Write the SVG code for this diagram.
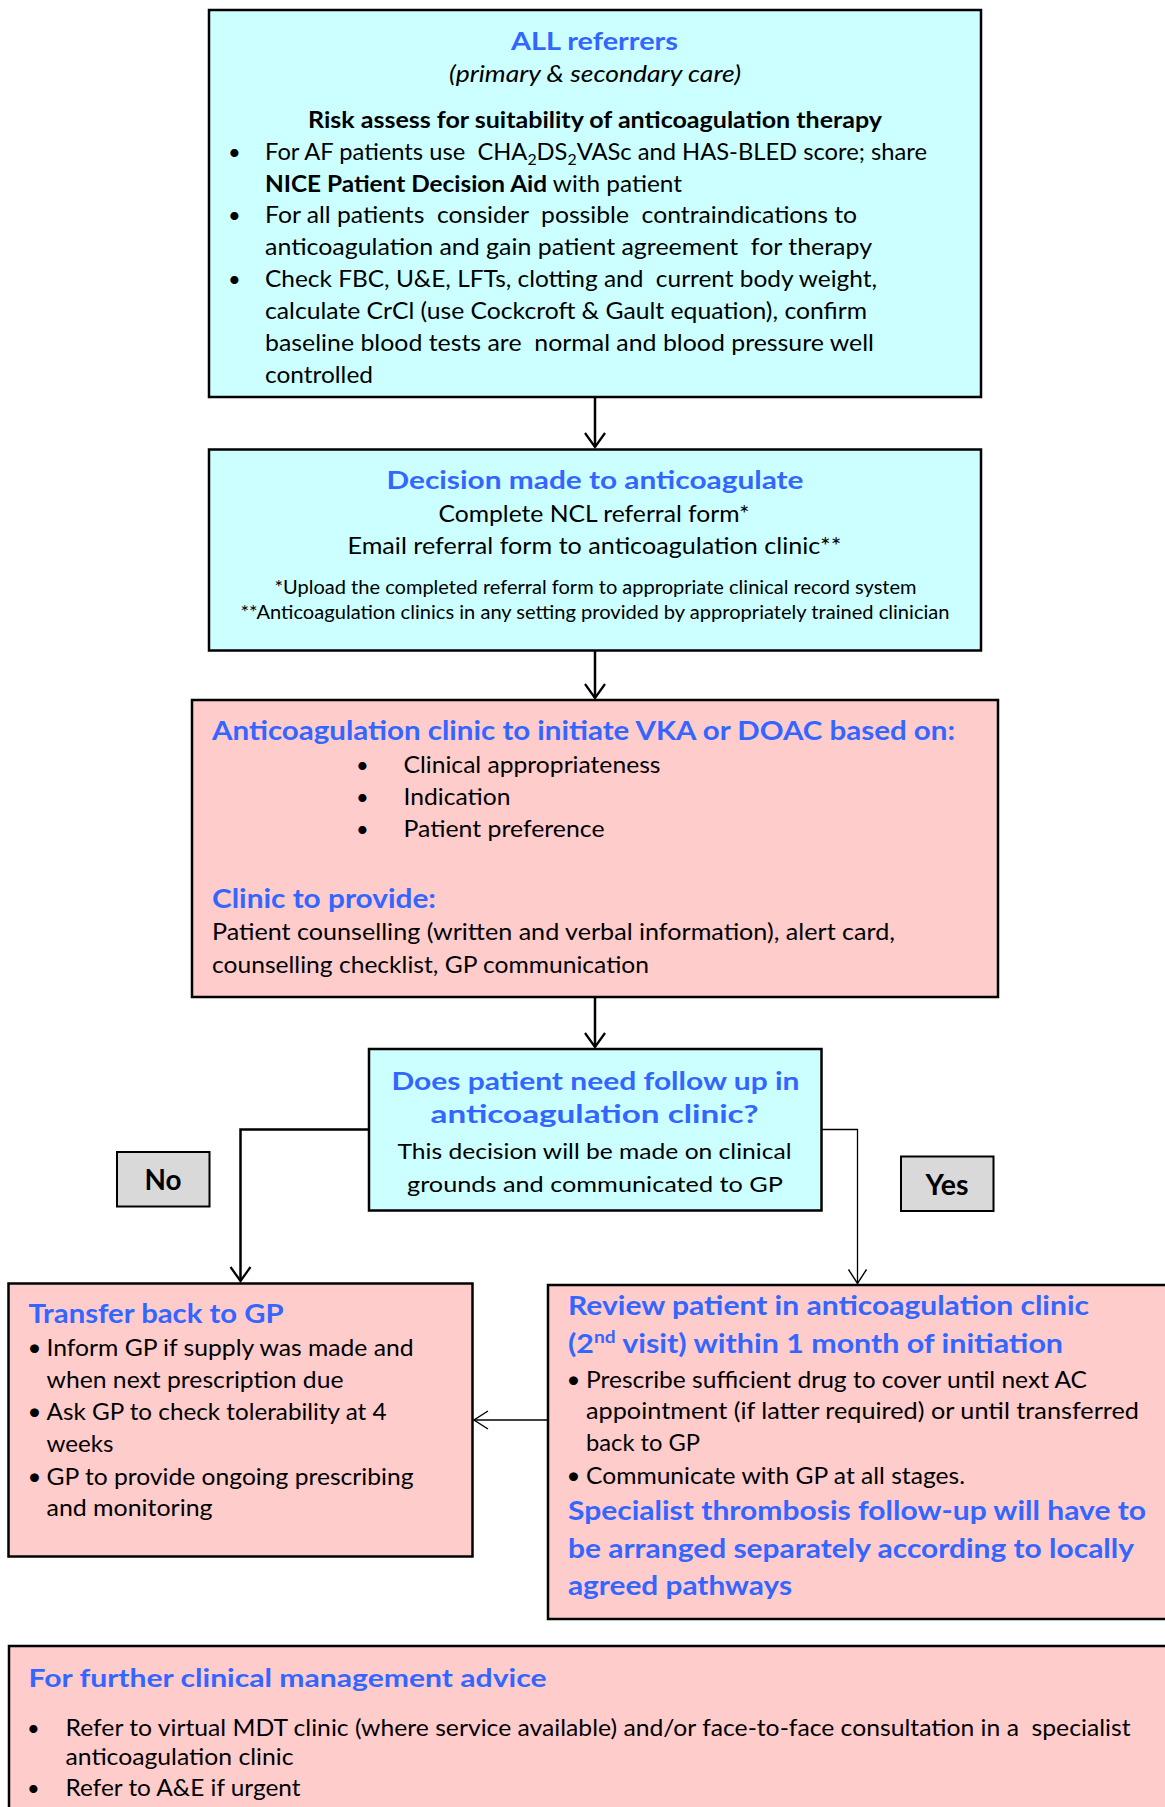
<svg xmlns="http://www.w3.org/2000/svg" width="1165" height="1807" viewBox="0 0 1165 1807">
<defs>
<style>
text{font-family:Lato,"Open Sans","Liberation Sans",sans-serif;fill:#000}
.h{font-weight:700;fill:#3366FF}
.bd{font-weight:700}
.it{font-style:italic}
.cy{fill:#CCFFFF;stroke:#000;stroke-width:2.5}
.pk{fill:#FFCCCC;stroke:#000;stroke-width:2.5}
.gr{fill:#D9D9D9;stroke:#000;stroke-width:2}
.thick{fill:none;stroke:#000;stroke-width:2.5}
.thin{fill:none;stroke:#000;stroke-width:1.3}
</style>
<marker id="arr" markerUnits="userSpaceOnUse" viewBox="-16 -12 18 24" markerWidth="18" markerHeight="24" refX="0" refY="0" orient="auto"><path d="M-14,-10 L0,0 L-14,10" fill="none" stroke="#000" stroke-width="2.2"/></marker>
<marker id="arrThin" markerUnits="userSpaceOnUse" viewBox="-16 -12 18 24" markerWidth="18" markerHeight="24" refX="0" refY="0" orient="auto"><path d="M-14,-9 L0,0 L-14,9" fill="none" stroke="#000" stroke-width="1.4"/></marker>
</defs>
<rect width="1165" height="1807" fill="#fff"/>

<g id="connectors">
<path class="thick" d="M595,398 V447" marker-end="url(#arr)"/>
<path class="thick" d="M595,651 V698" marker-end="url(#arr)"/>
<path class="thick" d="M595,997 V1047" marker-end="url(#arr)"/>
<path class="thick" d="M369,1129.5 H240.5 V1281" marker-end="url(#arr)"/>
<path class="thin" d="M821.5,1129.5 H857.5 V1283.5" marker-end="url(#arrThin)"/>
<path class="thin" d="M548,1420 H474" marker-end="url(#arrThin)"/>
</g>

<g id="node-referrers">
<rect class="cy" x="209" y="10" width="772" height="387"/>
<text class="h" x="511" y="50" font-size="25.5" textLength="167" lengthAdjust="spacingAndGlyphs">ALL referrers</text>
<text class="it" x="449" y="81.5" font-size="22.5" textLength="292" lengthAdjust="spacingAndGlyphs">(primary &amp; secondary care)</text>
<text class="bd" x="308" y="128" font-size="22.5" textLength="574" lengthAdjust="spacingAndGlyphs">Risk assess for suitability of anticoagulation therapy</text>
<text x="228" y="160" font-size="22">•</text>
<text x="265" y="160" font-size="22.5" textLength="662" lengthAdjust="spacingAndGlyphs" xml:space="preserve">For AF patients use  CHA<tspan font-size="15" dy="5">2</tspan><tspan dy="-5">DS</tspan><tspan font-size="15" dy="5">2</tspan><tspan dy="-5">VASc and HAS-BLED score; share</tspan></text>
<text x="265" y="191.5" font-size="22.5" textLength="417" lengthAdjust="spacingAndGlyphs"><tspan class="bd">NICE Patient Decision Aid</tspan> with patient</text>
<text x="228" y="223" font-size="22">•</text>
<text x="265" y="223" font-size="22.5" textLength="592" lengthAdjust="spacingAndGlyphs" xml:space="preserve">For all patients  consider  possible  contraindications to</text>
<text x="265" y="255" font-size="22.5" textLength="607" lengthAdjust="spacingAndGlyphs" xml:space="preserve">anticoagulation and gain patient agreement  for therapy</text>
<text x="228" y="287" font-size="22">•</text>
<text x="265" y="287" font-size="22.5" textLength="612" lengthAdjust="spacingAndGlyphs" xml:space="preserve">Check FBC, U&amp;E, LFTs, clotting and  current body weight,</text>
<text x="265" y="318.5" font-size="22.5" textLength="602" lengthAdjust="spacingAndGlyphs">calculate CrCl (use Cockcroft &amp; Gault equation), confirm</text>
<text x="265" y="351" font-size="22.5" textLength="609" lengthAdjust="spacingAndGlyphs" xml:space="preserve">baseline blood tests are  normal and blood pressure well</text>
<text x="265" y="383" font-size="22.5" textLength="108" lengthAdjust="spacingAndGlyphs">controlled</text>
</g>

<g id="node-decision">
<rect class="cy" x="209" y="449.5" width="772" height="201"/>
<text class="h" x="386.5" y="488.5" font-size="25.5" textLength="417" lengthAdjust="spacingAndGlyphs">Decision made to anticoagulate</text>
<text x="438.5" y="521.5" font-size="22.5" textLength="311" lengthAdjust="spacingAndGlyphs">Complete NCL referral form*</text>
<text x="347.5" y="553.5" font-size="22.5" textLength="494" lengthAdjust="spacingAndGlyphs">Email referral form to anticoagulation clinic**</text>
<text x="274.5" y="594" font-size="18.5" textLength="642" lengthAdjust="spacingAndGlyphs">*Upload the completed referral form to appropriate clinical record system</text>
<text x="240.5" y="618.5" font-size="18.5" textLength="709" lengthAdjust="spacingAndGlyphs">**Anticoagulation clinics in any setting provided by appropriately trained clinician</text>
</g>

<g id="node-initiate">
<rect class="pk" x="192" y="700" width="806" height="297"/>
<text class="h" x="212" y="740" font-size="27" textLength="743" lengthAdjust="spacingAndGlyphs">Anticoagulation clinic to initiate VKA or DOAC based on:</text>
<text x="356" y="773" font-size="22">•</text>
<text x="403.5" y="773" font-size="22.5" textLength="257" lengthAdjust="spacingAndGlyphs">Clinical appropriateness</text>
<text x="356" y="805" font-size="22">•</text>
<text x="403.5" y="805" font-size="22.5" textLength="107" lengthAdjust="spacingAndGlyphs">Indication</text>
<text x="356" y="837" font-size="22">•</text>
<text x="403.5" y="837" font-size="22.5" textLength="201" lengthAdjust="spacingAndGlyphs">Patient preference</text>
<text class="h" x="212" y="907.5" font-size="27" textLength="224" lengthAdjust="spacingAndGlyphs">Clinic to provide:</text>
<text x="212" y="940" font-size="22.5" textLength="683" lengthAdjust="spacingAndGlyphs">Patient counselling (written and verbal information), alert card,</text>
<text x="212" y="972.5" font-size="22.5" textLength="437" lengthAdjust="spacingAndGlyphs">counselling checklist, GP communication</text>
</g>

<g id="node-followup">
<rect class="cy" x="369" y="1049" width="452.5" height="161.5"/>
<text class="h" x="391.5" y="1089.5" font-size="25.5" textLength="408" lengthAdjust="spacingAndGlyphs">Does patient need follow up in</text>
<text class="h" x="430.5" y="1122.5" font-size="25.5" textLength="328" lengthAdjust="spacingAndGlyphs">anticoagulation clinic?</text>
<text x="397.5" y="1159" font-size="21.5" textLength="394" lengthAdjust="spacingAndGlyphs">This decision will be made on clinical</text>
<text x="407" y="1191.5" font-size="21.5" textLength="376" lengthAdjust="spacingAndGlyphs">grounds and communicated to GP</text>
</g>

<g id="label-no">
<rect class="gr" x="117" y="1152" width="92.5" height="54.5"/>
<text class="bd" x="163" y="1190" font-size="28" text-anchor="middle" textLength="37" lengthAdjust="spacingAndGlyphs">No</text>
</g>

<g id="label-yes">
<rect class="gr" x="901" y="1156.5" width="92.5" height="54.5"/>
<text class="bd" x="947" y="1194.5" font-size="28" text-anchor="middle" textLength="43" lengthAdjust="spacingAndGlyphs">Yes</text>
</g>

<g id="node-transfer">
<rect class="pk" x="8.5" y="1283.5" width="464" height="273"/>
<text class="h" x="28.5" y="1322.5" font-size="27" textLength="255" lengthAdjust="spacingAndGlyphs">Transfer back to GP</text>
<text x="27.5" y="1356" font-size="24">•</text>
<text x="46.5" y="1356" font-size="24" textLength="367" lengthAdjust="spacingAndGlyphs">Inform GP if supply was made and</text>
<text x="46.5" y="1387.5" font-size="24" textLength="297" lengthAdjust="spacingAndGlyphs">when next prescription due</text>
<text x="27.5" y="1420" font-size="24">•</text>
<text x="46.5" y="1420" font-size="24" textLength="340" lengthAdjust="spacingAndGlyphs">Ask GP to check tolerability at 4</text>
<text x="46.5" y="1451.5" font-size="24" textLength="67" lengthAdjust="spacingAndGlyphs">weeks</text>
<text x="27.5" y="1484.5" font-size="24">•</text>
<text x="46.5" y="1484.5" font-size="24" textLength="367" lengthAdjust="spacingAndGlyphs">GP to provide ongoing prescribing</text>
<text x="46.5" y="1516" font-size="24" textLength="166" lengthAdjust="spacingAndGlyphs">and monitoring</text>
</g>

<g id="node-review">
<rect class="pk" x="548" y="1285" width="630" height="334"/>
<text class="h" x="568" y="1315" font-size="27" textLength="521" lengthAdjust="spacingAndGlyphs">Review patient in anticoagulation clinic</text>
<text class="h" x="568" y="1352.5" font-size="27" textLength="495" lengthAdjust="spacingAndGlyphs">(2<tspan font-size="17" dy="-10">nd</tspan><tspan dy="10"> visit) within 1 month of initiation</tspan></text>
<text x="566.5" y="1387.5" font-size="24">•</text>
<text x="586" y="1387.5" font-size="24" textLength="501" lengthAdjust="spacingAndGlyphs">Prescribe sufficient drug to cover until next AC</text>
<text x="586" y="1418.5" font-size="24" textLength="553" lengthAdjust="spacingAndGlyphs">appointment (if latter required) or until transferred</text>
<text x="586" y="1451" font-size="24" textLength="114" lengthAdjust="spacingAndGlyphs">back to GP</text>
<text x="566.5" y="1483.5" font-size="24">•</text>
<text x="586" y="1483.5" font-size="24" textLength="379" lengthAdjust="spacingAndGlyphs">Communicate with GP at all stages.</text>
<text class="h" x="568" y="1520" font-size="27" textLength="578" lengthAdjust="spacingAndGlyphs">Specialist thrombosis follow-up will have to</text>
<text class="h" x="568" y="1557.5" font-size="27" textLength="566" lengthAdjust="spacingAndGlyphs">be arranged separately according to locally</text>
<text class="h" x="568" y="1595" font-size="27" textLength="224" lengthAdjust="spacingAndGlyphs">agreed pathways</text>
</g>

<g id="node-advice">
<rect class="pk" x="9" y="1646" width="1170" height="180"/>
<text class="h" x="28.5" y="1687" font-size="25.5" textLength="518" lengthAdjust="spacingAndGlyphs">For further clinical management advice</text>
<text x="27" y="1736" font-size="22">•</text>
<text x="65.5" y="1736" font-size="22.5" textLength="1065" lengthAdjust="spacingAndGlyphs" xml:space="preserve">Refer to virtual MDT clinic (where service available) and/or face-to-face consultation in a  specialist</text>
<text x="65.5" y="1765" font-size="22.5" textLength="228" lengthAdjust="spacingAndGlyphs">anticoagulation clinic</text>
<text x="27" y="1796" font-size="22">•</text>
<text x="65.5" y="1796" font-size="22.5" textLength="235" lengthAdjust="spacingAndGlyphs">Refer to A&amp;E if urgent</text>
</g>
</svg>
